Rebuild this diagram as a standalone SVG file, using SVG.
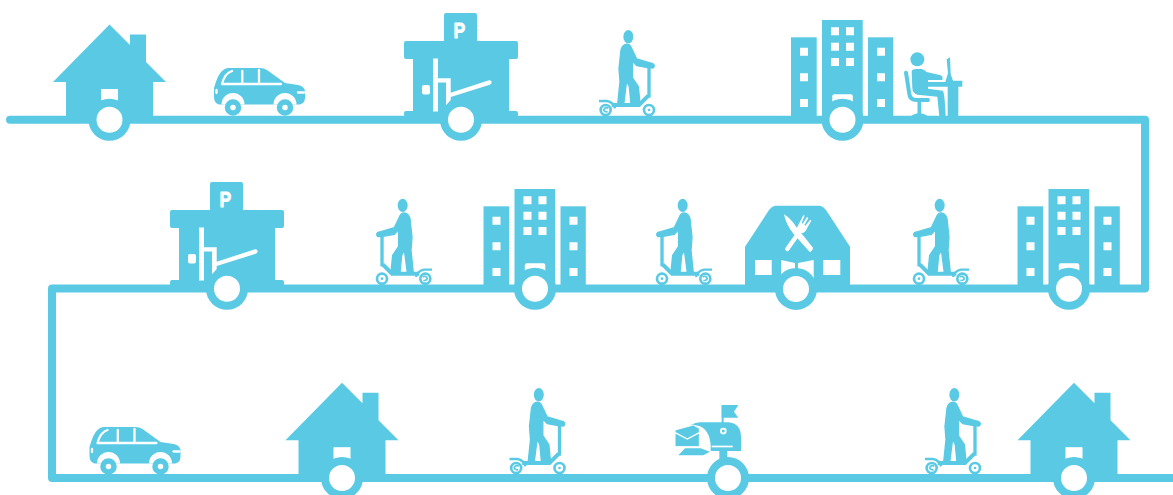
<svg xmlns="http://www.w3.org/2000/svg" width="1173" height="495" viewBox="0 0 1173 495">
<style>
.b{fill:#5acae4}
.w{fill:#fff}
.ws{fill:none;stroke:#fff;stroke-linecap:round}
.bs{fill:none;stroke:#5acae4}
.ring{fill:#fff;stroke:#5acae4;stroke-width:8}
.line{fill:none;stroke:#5acae4;stroke-width:8;stroke-linecap:round;stroke-linejoin:round}
.p{font-family:"Liberation Sans",Arial,sans-serif;font-weight:700;font-size:22px;fill:#fff;stroke:#fff;stroke-width:.8;stroke-linejoin:round}
</style>
<defs>
<g id="house">
<polygon class="b" points="109.500,24.500 130,45 130,34.500 146,34.500 146,62 166,82 153,82 153,118 66,118 66,82 53,82"/>
<rect class="w" x="101" y="89" width="17" height="14"/>
<circle class="ring" cx="109.500" cy="119.800" r="17"/>
</g>
<g id="car">
<path class="b" d="M228 68H260Q264 68 267 70L285 83L298 85Q304 86 305 91V98Q305 103 300 104.500H219Q214 103 214 97V88Q218 74 222 71Q225 68 228 68Z"/>
<path class="w" d="M221.500 104.500A11.500 11.500 0 0 1 244.500 104.500ZM273.500 104.500A11.500 11.500 0 0 1 296.500 104.500Z"/>
<circle class="bs" cx="233" cy="107.500" r="5.500" stroke-width="5.500"/>
<circle class="bs" cx="285" cy="107.500" r="5.500" stroke-width="5.500"/>
<path class="ws" stroke-width="2.300" d="M222 84H281M222 84Q225 73 232 71M242.300 71V84M259 70V84"/>
<path class="ws" stroke-width="2.300" d="M298 92.500H304M216.500 90V93"/>
</g>
<g id="park">
<rect class="b" x="444" y="13" width="33" height="32" rx="2"/>
<rect class="b" x="404" y="41" width="114" height="18" rx="2"/>
<rect class="b" x="413" y="57" width="96" height="60"/>
<rect class="b" x="404" y="111" width="114" height="6" rx="2"/>
<rect class="w" x="433" y="58.500" width="5" height="53"/>
<rect class="w" x="422" y="85" width="8" height="9.500" rx="2"/>
<path class="w" d="M438 78.300H450.700V92.800L489 80.200Q492 80 491.500 83Q491 84.500 489 85L450.700 97V100L446 105.500V82.500H438Z"/>
<circle class="ring" cx="461" cy="119.800" r="17"/>
<text class="p" transform="translate(453.500 38) scale(.8 1)">P</text>
</g>
<g id="scoot">
<g transform="translate(595 25) scale(.33333)">
<ellipse class="b" cx="100" cy="35" rx="15" ry="20"/>
<path class="b" stroke="#5acae4" stroke-width="4" stroke-linejoin="round" d="M92 58Q103 56 108 66L125 102L160 112L174 116Q182 122 174 129L158 128L125 122L112 108L112 158L130 185L135 236L108 238L103 185L95 168L86 238L68 238L75 170L72 130L78 75Q82 60 92 58Z"/>
<path class="bs" stroke-width="10" d="M162 126V218"/>
<path class="bs" stroke-width="12" d="M50 240H132L160 212"/>
<circle class="w" cx="162" cy="255" r="12"/>
<circle class="bs" cx="162" cy="255" r="15" stroke-width="8"/>
<circle class="b" cx="162" cy="255" r="4"/>
<circle class="w" cx="32" cy="255" r="12"/>
<circle class="bs" cx="32" cy="255" r="15" stroke-width="8"/>
<path class="bs" stroke-width="7" d="M12 228H36Q55 232 60 250"/>
<path class="bs" stroke-width="5" d="M40 250Q32 244 26 254Q28 262 38 260"/>
</g>
</g>
<g id="office">
<rect class="b" x="791" y="37.300" width="25.700" height="80"/>
<rect class="b" x="822" y="20" width="40.700" height="97"/>
<rect class="b" x="868" y="37.300" width="25.300" height="80"/>
<path class="w" d="M800 47.700h8v8h-8zM800 73.300h8v8h-8zM800 99h8v8h-8zM877 47.700h8v8h-8zM877 73.300h8v8h-8zM877 99h8v8h-8zM831 27.300h8v8h-8zM846 27.300h8v8h-8zM831 42.700h8v8h-8zM846 42.700h8v8h-8zM831 58h8v8h-8zM846 58h8v8h-8z"/>
<rect class="w" x="832.300" y="94.300" width="20.500" height="14" rx="2"/>
<circle class="ring" cx="842.500" cy="119.800" r="17"/>
</g>
</defs>

<g id="connectors">
<path class="line" d="M10 119.800H1145V288.500H52V478H1173"/>
</g>

<g id="house-1"><use href="#house"/></g>
<g id="car-1"><use href="#car"/></g>
<g id="parking-1"><use href="#park"/></g>
<g id="scooter-1"><use href="#scoot"/></g>
<g id="office-1"><use href="#office"/></g>
<g id="worker">
<g transform="translate(900 50) scale(.33333)">
<circle class="b" cx="52" cy="28" r="21"/>
<path class="b" d="M35 65Q35 57 50 57H65Q72 58 80 66L122 76Q130 80 127 90L84 90L84 116L128 122Q134 125 137 200H118L112 140L52 134Q38 130 37 115Z"/>
<path class="bs" stroke-width="12" stroke-linecap="round" d="M18 68L28 132Q30 150 50 150H84"/>
<path class="bs" stroke-width="11" d="M58 152V192"/>
<path class="b" d="M28 202Q58 178 88 202Z"/>
<path class="b" d="M83 96H138V92H187V110H175V202H143V110H83Z"/>
<path class="b" d="M140 28L150 22L152 72L160 95H136L144 70Z"/>
</g>
</g>

<g id="parking-2"><use href="#park" transform="translate(-234 169)"/></g>
<g id="scooter-2"><use href="#scoot" transform="translate(1031 168.700) scale(-1 1)"/></g>
<g id="office-2"><use href="#office" transform="translate(-307.500 169)"/></g>
<g id="scooter-3"><use href="#scoot" transform="translate(1311 168.700) scale(-1 1)"/></g>
<g id="restaurant">
<path class="b" d="M775 205.700H820Q823 206 826 210L850 246.700V286H745V246.700L769 210Q772 206 775 205.700Z"/>
<rect class="w" x="755" y="260" width="16.700" height="15"/>
<rect class="w" x="823.300" y="260" width="17" height="15"/>
<path class="w" d="M781 260L795 263V280H781ZM813.700 260L798 263V280H813.700Z"/>
<circle class="ring" cx="796" cy="289" r="17"/>
<g transform="translate(775 205) scale(.33333)">
<path class="w" d="M27 28Q47 40 64 66L114 128Q114 137 105 142L56 87Q33 60 27 28Z"/>
<path class="ws" stroke-width="13" d="M37 132L75 78" stroke-linecap="butt"/>
<path class="w" d="M66 68L85 30L89 32L80 54L83 56L96 36L100 39L88 60L91 62L106 44L109 47L97 68Q92 82 80 85Q68 80 66 68Z"/>
</g>
</g>
<g id="scooter-4"><use href="#scoot" transform="translate(1568 168.700) scale(-1 1)"/></g>
<g id="office-3"><use href="#office" transform="translate(226.500 169)"/></g>

<g id="car-2"><use href="#car" transform="translate(-124.500 359)"/></g>
<g id="house-2"><use href="#house" transform="translate(232.500 358.200)"/></g>
<g id="scooter-5"><use href="#scoot" transform="translate(-89.500 358)"/></g>
<g id="mailbox">
<g transform="translate(660 395) scale(.33333)">
<path class="b" d="M178 165H202V195H178Z"/>
<path class="bs" stroke-width="6" d="M188 30V100"/>
<path class="b" d="M185 30H235L222 50L235 68H185Z"/>
<path class="b" d="M92 90Q110 80 125 82H205Q242 85 243 125V168H152Q155 110 120 94Q105 89 92 92Z"/>
<circle class="w" cx="190" cy="108" r="10"/>
<circle class="b" cx="190" cy="108" r="4.500"/>
<rect class="w" x="155" y="152" width="63" height="5"/>
<path class="b" stroke="#fff" stroke-width="3" d="M45 105L100 90L118 100V155H45Z"/>
<path class="ws" stroke-width="4" stroke-linecap="butt" d="M45 113L82 132L118 113"/>
<path class="b" d="M75 160H122L150 170L130 181H55Z"/>
</g>
<circle class="ring" cx="728" cy="478" r="17"/>
</g>
<g id="scooter-6"><use href="#scoot" transform="translate(326 358)"/></g>
<g id="house-3"><use href="#house" transform="translate(964.500 358.200)"/></g>
</svg>
